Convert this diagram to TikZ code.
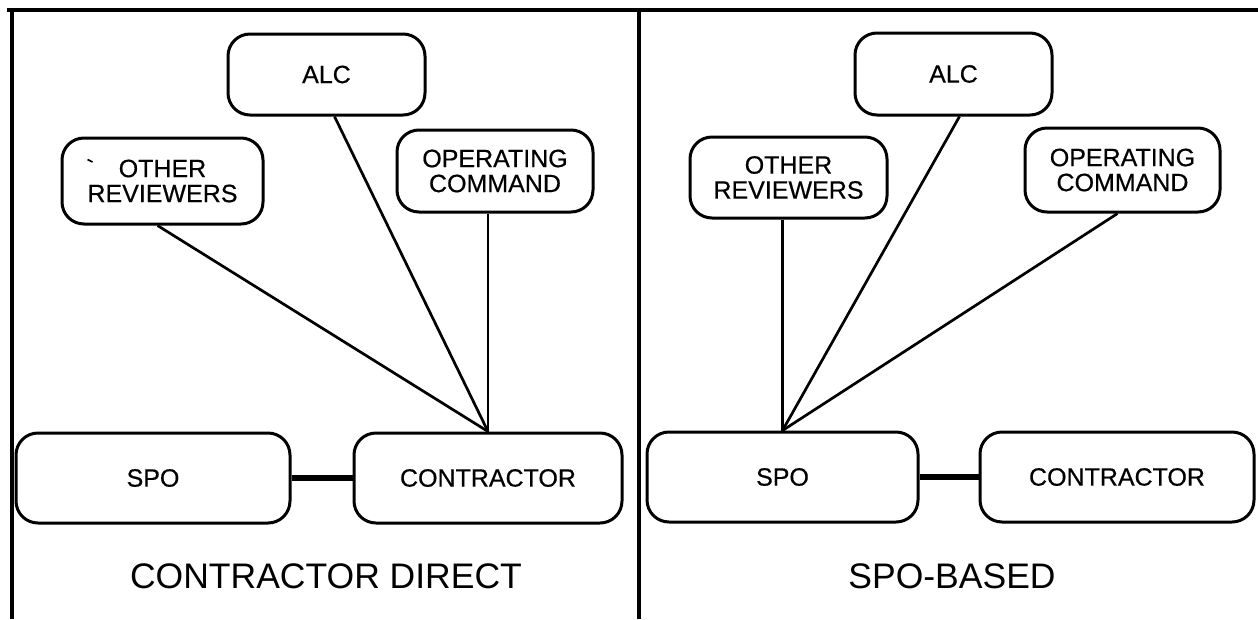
\documentclass[tikz,border=0pt]{standalone}
\usepackage{fontspec}
\setmainfont{Liberation Sans}
\newfontfamily\boxfont{Liberation Sans}[FakeBold=0.5]
\usetikzlibrary{calc}

\begin{document}
\begin{tikzpicture}[x=1pt, y=-1pt,
  frameline/.style={line width=3.8pt},
  org/.style={draw, line width=3pt, rounded corners=22pt, align=center,
    inner sep=0pt, font=\boxfont\fontsize{25}{25}\selectfont},
  link/.style={line width=2.7pt},
  tie/.style={line width=6.5pt},
  caption/.style={anchor=base, font=\fontsize{35.5}{38}\selectfont}]
\useasboundingbox (0,0) rectangle (1258,619);

% panel frame
\draw[frameline] (7,10) -- (1258,10);
\draw[frameline] (12,10) -- (12,619);
\draw[frameline] (639,10) -- (639,619);

% ---- contractor direct ----
\node[org, minimum width=197pt, minimum height=81pt] (alcL) at (326.5,74.5) {ALC};
\node[org, minimum width=201pt, minimum height=86pt] (orevL) at (162.5,181) {OTHER\\REVIEWERS};
\node[org, minimum width=196pt, minimum height=82pt] (opcL) at (495,171) {OPERATING\\COMMAND};
\node[org, minimum width=274pt, minimum height=90pt] (spoL) at (153,478) {SPO};
\node[org, minimum width=268pt, minimum height=90pt] (conL) at (488,478) {CONTRACTOR};
\draw[line width=1.6pt] (87.5,159.5) -- (92.5,162);

\draw[link] ($(orevL.south)+(-5,0)$) -- (conL.north);
\draw[link] ($(alcL.south)+(8,0)$) -- (conL.north);
\draw[link] (opcL.south -| conL.north) -- (conL.north);
\draw[tie] (spoL.east) -- (conL.west);

\node[caption] (capL) at (326,588) {CONTRACTOR DIRECT};

% ---- SPO-based ----
\node[org, minimum width=197pt, minimum height=82pt] (alcR) at (953.5,74) {ALC};
\node[org, minimum width=197pt, minimum height=81pt] (orevR) at (788.5,177.5) {OTHER\\REVIEWERS};
\node[org, minimum width=195pt, minimum height=84pt] (opcR) at (1122.5,170) {OPERATING\\COMMAND};
\node[org, minimum width=271pt, minimum height=90pt] (spoR) at (782.5,477) {SPO};
\node[org, minimum width=274pt, minimum height=90pt] (conR) at (1117,477) {CONTRACTOR};

\draw[link] (spoR.north |- orevR.south) -- (spoR.north);
\draw[link] ($(alcR.south)+(6,0)$) -- (spoR.north);
\draw[link] ($(opcR.south)+(-5,0)$) -- (spoR.north);
\draw[tie] (spoR.east) -- (conR.west);

\node[caption] (capR) at (952,588) {SPO-BASED};
\end{tikzpicture}
\end{document}
